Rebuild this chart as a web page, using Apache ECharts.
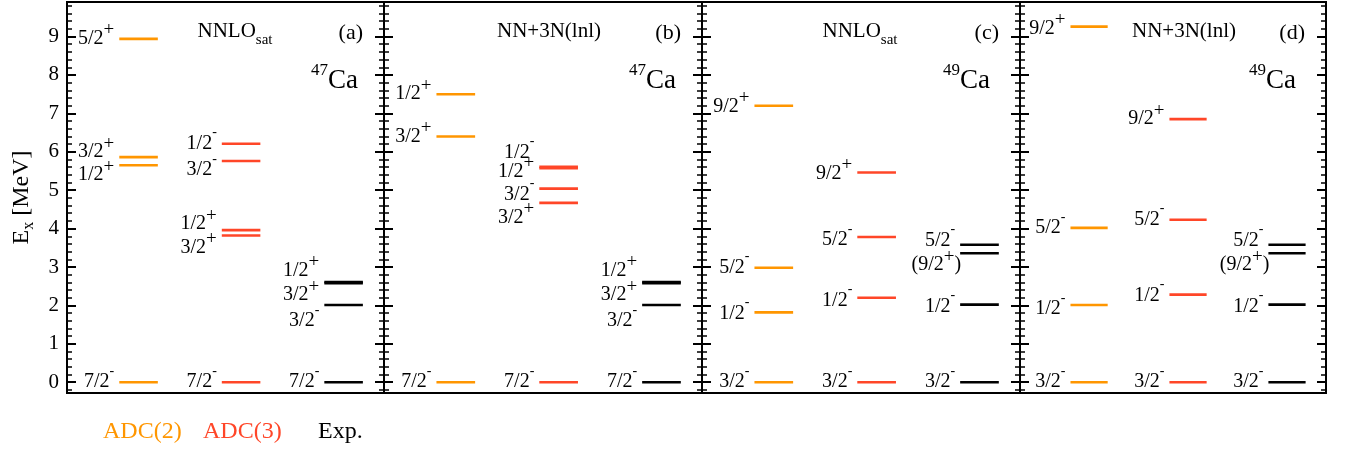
<!DOCTYPE html>
<html><head><meta charset="utf-8">
<script src="https://cdn.jsdelivr.net/npm/echarts@6/dist/echarts.min.js"></script>
<style>html,body{margin:0;padding:0;background:#fff}#c{width:1354px;height:453px}</style>
</head><body><div id="c"></div>
<script>
// ================= DATA =================
const methods = ['ADC(2)', 'ADC(3)', 'Exp.'];
const panelTags = ['(a)', '(b)', '(c)', '(d)'];
const panelInteractions = ['NNLO_sat', 'NN+3N(lnl)', 'NNLO_sat', 'NN+3N(lnl)'];
const panelMass = ['47', '47', '49', '49'];
const panelElement = ['Ca', 'Ca', 'Ca', 'Ca'];
const yTickValues = [0, 1, 2, 3, 4, 5, 6, 7, 8, 9];

// (a) 47Ca, NNLO_sat
const a_adc2_E = [0, 5.65, 5.86, 8.94];
const a_adc2_J = ['7/2-', '1/2+', '3/2+', '5/2+'];
const a_adc3_E = [0, 3.82, 3.96, 5.76, 6.21];
const a_adc3_J = ['7/2-', '3/2+', '1/2+', '3/2-', '1/2-'];
// (b) 47Ca, NN+3N(lnl)
const b_adc2_E = [0, 6.40, 7.50];
const b_adc2_J = ['7/2-', '3/2+', '1/2+'];
const b_adc3_E = [0, 4.67, 5.04, 5.57, 5.61];
const b_adc3_J = ['7/2-', '3/2+', '3/2-', '1/2+', '1/2-'];
// experiment 47Ca
const ca47_exp_E = [0, 2.01, 2.58, 2.61];
const ca47_exp_J = ['7/2-', '3/2-', '3/2+', '1/2+'];
// (c) 49Ca, NNLO_sat
const c_adc2_E = [0, 1.82, 2.98, 7.20];
const c_adc2_J = ['3/2-', '1/2-', '5/2-', '9/2+'];
const c_adc3_E = [0, 2.20, 3.78, 5.46];
const c_adc3_J = ['3/2-', '1/2-', '5/2-', '9/2+'];
// (d) 49Ca, NN+3N(lnl)
const d_adc2_E = [0, 2.01, 4.02, 9.26];
const d_adc2_J = ['3/2-', '1/2-', '5/2-', '9/2+'];
const d_adc3_E = [0, 2.28, 4.23, 6.85];
const d_adc3_J = ['3/2-', '1/2-', '5/2-', '9/2+'];
// experiment 49Ca
const ca49_exp_E = [0, 2.02, 3.36, 3.58];
const ca49_exp_J = ['3/2-', '1/2-', '(9/2+)', '5/2-'];

// ================= LAYOUT / STYLE =================
const COLORS = ['#ff9600', '#ff4628', '#000000'];
const FONT = '"Liberation Serif", "Times New Roman", serif';
const GRIDS = [
  { left: 67, width: 317 }, { left: 384, width: 318 },
  { left: 702, width: 318 }, { left: 1020, width: 306 }
];
const GRID_TOP = 2, GRID_H = 391;
const Y_MIN = -0.28, Y_MAX = 9.9;
const X_MIN = -0.698, X_MAX = 2.394, HALF = 0.188;
// label vertical offsets (px) for each level, aligned with the arrays above
const DY = {
  a_adc2: [0, 10, -5, 0], a_adc3: [0, 12, -6, 9, 0],
  b_adc2: [0, 0, 0], b_adc3: [0, 15, 6, 3, -14],
  ca47: [0, 16, 12, -11],
  c_adc2: [0, 1, 0, 1], c_adc3: [0, 3, 3, 1],
  d_adc2: [0, 4, 0, 2], d_adc3: [0, 1, 0, 0],
  ca49: [0, 2, 12, -4]
};
const DX49 = [0, 0, 6, 0];

const panels = [
  { cols: [[a_adc2_E, a_adc2_J, DY.a_adc2], [a_adc3_E, a_adc3_J, DY.a_adc3], [ca47_exp_E, ca47_exp_J, DY.ca47]] },
  { cols: [[b_adc2_E, b_adc2_J, DY.b_adc2], [b_adc3_E, b_adc3_J, DY.b_adc3], [ca47_exp_E, ca47_exp_J, DY.ca47]] },
  { cols: [[c_adc2_E, c_adc2_J, DY.c_adc2], [c_adc3_E, c_adc3_J, DY.c_adc3], [ca49_exp_E, ca49_exp_J, DY.ca49, DX49]] },
  { cols: [[d_adc2_E, d_adc2_J, DY.d_adc2], [d_adc3_E, d_adc3_J, DY.d_adc3], [ca49_exp_E, ca49_exp_J, DY.ca49, DX49]] }
];

const LABEL_RICH = {
  n: { fontFamily: FONT, fontSize: 20, lineHeight: 36, fill: '#000' },
  p: { fontFamily: FONT, fontSize: 19, verticalAlign: 'top', fill: '#000' },
  m: { fontFamily: FONT, fontSize: 14, verticalAlign: 'top', fill: '#000' }
};
function jpText(j) {
  const m = j.match(/^(\(?\d+\/\d+)([+-])(\)?)$/);
  let s = '{n|' + m[1] + '}' + (m[2] === '+' ? '{p|+}' : '{m|-}');
  if (m[3]) s += '{n|' + m[3] + '}';
  return s;
}

// minor ticks every 0.2 between the major ticks
const minorTicks = [];
[-1].concat(yTickValues).forEach(v => {
  [0.2, 0.4, 0.6, 0.8].forEach(f => {
    const t = Math.round((v + f) * 10) / 10;
    if (t >= Y_MIN && t <= Y_MAX) minorTicks.push(t);
  });
});

const grid = [], xAxis = [], yAxis = [], series = [];
GRIDS.forEach((g, gi) => {
  grid.push({ left: g.left, width: g.width, top: GRID_TOP, height: GRID_H,
    show: true, borderColor: '#000', borderWidth: 2, backgroundColor: 'transparent' });
  xAxis.push({ type: 'value', gridIndex: gi, min: X_MIN, max: X_MAX, show: false });
  const base = { type: 'value', gridIndex: gi, min: Y_MIN, max: Y_MAX,
    splitLine: { show: false }, axisLine: { show: false, onZero: false } };
  ['left', 'right'].forEach(pos => {
    const showLab = gi === 0 && pos === 'left';
    const major = Object.assign({}, base, {
      position: pos,
      axisTick: { show: true, inside: true, length: 9, customValues: yTickValues,
        lineStyle: { color: '#000', width: 2 } },
      axisLabel: { show: showLab, customValues: yTickValues, fontFamily: FONT,
        fontSize: 21, color: '#000', margin: 8 }
    });
    if (showLab) {
      Object.assign(major, {
        name: '{e|E}{s|x}{e| [MeV]}', nameLocation: 'middle', nameGap: 30, nameRotate: 90,
        nameTextStyle: { rich: {
          e: { fontFamily: FONT, fontSize: 24, lineHeight: 30, color: '#000' },
          s: { fontFamily: FONT, fontSize: 16, verticalAlign: 'bottom', color: '#000' }
        } }
      });
    }
    yAxis.push(major);
    yAxis.push(Object.assign({}, base, {
      position: pos,
      axisTick: { show: true, inside: true, length: 5, customValues: minorTicks,
        lineStyle: { color: '#000', width: 1.5 } },
      axisLabel: { show: false }
    }));
  });
  panels[gi].cols.forEach((col, ci) => {
    const [E, J, dy, dx] = col;
    const color = COLORS[ci];
    series.push({
      type: 'custom', name: methods[ci], xAxisIndex: gi, yAxisIndex: gi * 4,
      coordinateSystem: 'cartesian2d', silent: true, clip: false,
      data: E.map(e => [ci, e]),
      renderItem: function (params, api) {
        const i = params.dataIndex;
        const c = api.value(0), e = api.value(1);
        const p1 = api.coord([c - HALF, e]);
        const p2 = api.coord([c + HALF, e]);
        return { type: 'group', children: [
          { type: 'line', shape: { x1: p1[0], y1: p1[1], x2: p2[0], y2: p2[1] },
            style: { stroke: color, lineWidth: 2.6 } },
          { type: 'text', x: p1[0] - 5 + (dx ? dx[i] : 0), y: p1[1] + dy[i],
            style: { text: jpText(J[i]), rich: LABEL_RICH, align: 'right',
              verticalAlign: 'middle', fill: '#000', fontFamily: FONT, fontSize: 20 } }
        ] };
      }
    });
  });
});

// ---- annotations: titles, tags, nuclei, legend ----
const graphic = [];
const titleX = [235, 549, 860, 1184];
GRIDS.forEach((g, gi) => {
  const inter = panelInteractions[gi];
  const tt = inter.indexOf('_') >= 0
    ? '{t|' + inter.split('_')[0] + '}{s|' + inter.split('_')[1] + '}'
    : '{t|' + inter + '}';
  graphic.push({ type: 'text', x: titleX[gi], y: 31, silent: true,
    style: { text: tt, align: 'center', verticalAlign: 'middle', rich: {
      t: { fontFamily: FONT, fontSize: 21, lineHeight: 34, fill: '#000' },
      s: { fontFamily: FONT, fontSize: 15, verticalAlign: 'bottom', fill: '#000' } } } });
  graphic.push({ type: 'text', x: g.left + g.width - 21, y: 33, silent: true,
    style: { text: panelTags[gi], align: 'right', verticalAlign: 'middle',
      fontFamily: FONT, fontSize: 22, fill: '#000' } });
  graphic.push({ type: 'text', x: g.left + g.width - 26 - (gi >= 2 ? 4 : 0), y: 81, silent: true,
    style: { text: '{m|' + panelMass[gi] + '}{e|' + panelElement[gi] + '}', align: 'right',
      verticalAlign: 'middle', rich: {
        m: { fontFamily: FONT, fontSize: 17, verticalAlign: 'top', fill: '#000' },
        e: { fontFamily: FONT, fontSize: 27, lineHeight: 38, fill: '#000' } } } });
});
const legendX = [103, 203, 318];
methods.forEach((m, i) => {
  graphic.push({ type: 'text', x: legendX[i], y: 432, silent: true,
    style: { text: m, align: 'left', verticalAlign: 'middle', fontFamily: FONT,
      fontSize: 24, fill: COLORS[i] } });
});

const chart = echarts.init(document.getElementById('c'), null, { renderer: 'canvas' });
chart.setOption({
  animation: false,
  backgroundColor: '#fff',
  grid, xAxis, yAxis, series, graphic
});
</script></body></html>
